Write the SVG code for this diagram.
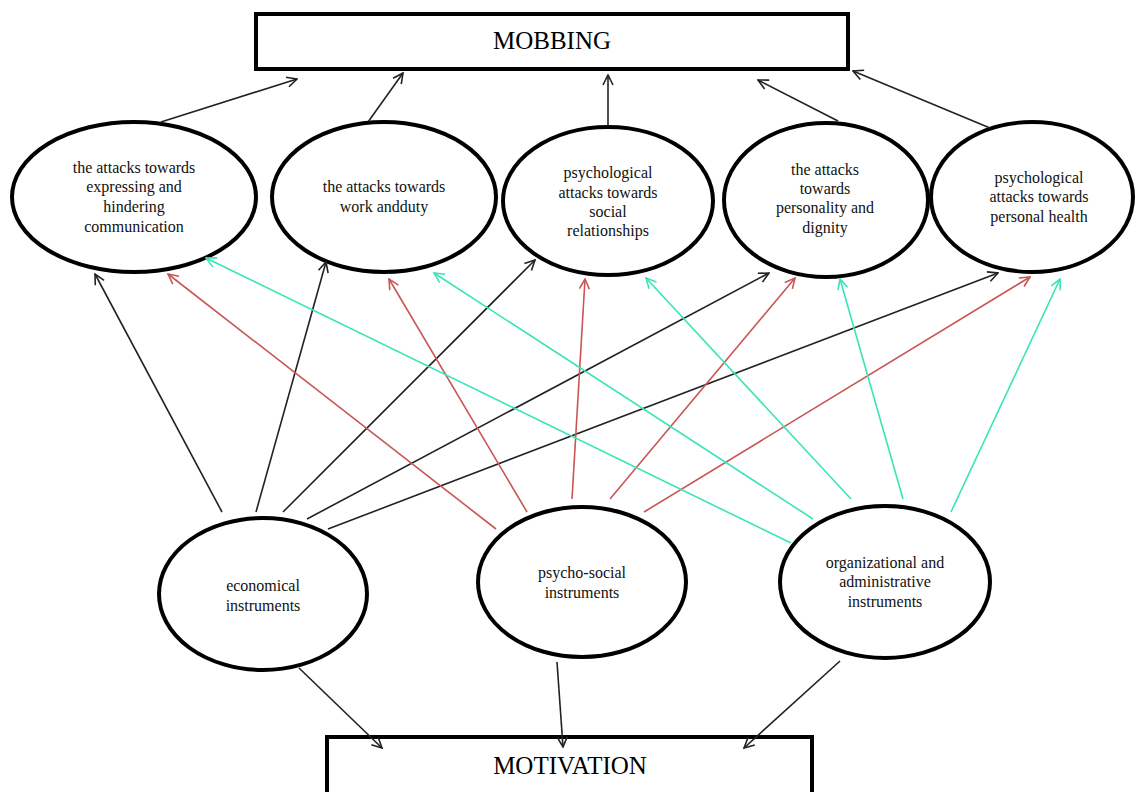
<svg xmlns="http://www.w3.org/2000/svg" width="1136" height="792" viewBox="0 0 1136 792">
<style>
.box{fill:#fff;stroke:#000;stroke-width:4}
.node{fill:#fff;stroke:#000;stroke-width:4}
.t{font-family:"Liberation Serif","Times New Roman",serif;font-size:16px;fill:#111;text-anchor:middle}
.big{font-family:"Liberation Serif","Times New Roman",serif;font-size:25px;fill:#000;text-anchor:middle}
.k{stroke:#222;stroke-width:1.6;fill:none;marker-end:url(#ak)}
.r{stroke:#c95656;stroke-width:1.6;fill:none;marker-end:url(#ar)}
.c{stroke:#3ae4b8;stroke-width:1.6;fill:none;marker-end:url(#ac)}
</style>
<defs>
<marker id="ak" viewBox="0 0 12 12" refX="11" refY="6" markerWidth="12" markerHeight="12" markerUnits="userSpaceOnUse" orient="auto"><path d="M1,1 L11,6 L1,11" fill="none" stroke="#222" stroke-width="1.6"/></marker>
<marker id="ar" viewBox="0 0 12 12" refX="11" refY="6" markerWidth="12" markerHeight="12" markerUnits="userSpaceOnUse" orient="auto"><path d="M1,1 L11,6 L1,11" fill="none" stroke="#c95656" stroke-width="1.6"/></marker>
<marker id="ac" viewBox="0 0 12 12" refX="11" refY="6" markerWidth="12" markerHeight="12" markerUnits="userSpaceOnUse" orient="auto"><path d="M1,1 L11,6 L1,11" fill="none" stroke="#3ae4b8" stroke-width="1.6"/></marker>
</defs>
<rect width="1136" height="792" fill="#fff"/>

<g id="mobbing">
<rect class="box" x="256" y="14" width="592" height="55"/>
<text class="big" x="552" y="49">MOBBING</text>
</g>
<g id="motivation">
<rect class="box" x="327" y="737" width="485" height="70"/>
<text class="big" x="570" y="774">MOTIVATION</text>
</g>

<g id="n1">
<ellipse class="node" cx="134" cy="197" rx="122" ry="75"/>
<text class="t" x="134" y="173">the attacks towards</text>
<text class="t" x="134" y="192">expressing and</text>
<text class="t" x="134" y="212">hindering</text>
<text class="t" x="134" y="232">communication</text>
</g>
<g id="n2">
<ellipse class="node" cx="384" cy="197" rx="112" ry="75"/>
<text class="t" x="384" y="192">the attacks towards</text>
<text class="t" x="384" y="212">work andduty</text>
</g>
<g id="n3">
<ellipse class="node" cx="608" cy="201" rx="105" ry="74"/>
<text class="t" x="608" y="178">psychological</text>
<text class="t" x="608" y="198">attacks towards</text>
<text class="t" x="608" y="217">social</text>
<text class="t" x="608" y="236">relationships</text>
</g>
<g id="n4">
<ellipse class="node" cx="826" cy="200" rx="102" ry="77"/>
<text class="t" x="825" y="175">the attacks</text>
<text class="t" x="825" y="194">towards</text>
<text class="t" x="825" y="213">personality and</text>
<text class="t" x="825" y="233">dignity</text>
</g>
<g id="n5">
<ellipse class="node" cx="1032" cy="197" rx="101" ry="75"/>
<text class="t" x="1039" y="183">psychological</text>
<text class="t" x="1039" y="202">attacks towards</text>
<text class="t" x="1039" y="222">personal health</text>
</g>

<g id="b1">
<ellipse class="node" cx="263" cy="594" rx="104" ry="76"/>
<text class="t" x="263" y="591">economical</text>
<text class="t" x="263" y="611">instruments</text>
</g>
<g id="b2">
<ellipse class="node" cx="582" cy="582" rx="104" ry="75"/>
<text class="t" x="582" y="578">psycho-social</text>
<text class="t" x="582" y="598">instruments</text>
</g>
<g id="b3">
<ellipse class="node" cx="885" cy="582" rx="105" ry="76"/>
<text class="t" x="885" y="568">organizational and</text>
<text class="t" x="885" y="587">administrative</text>
<text class="t" x="885" y="607">instruments</text>
</g>

<g id="connectors">
<line class="k" x1="161" y1="122" x2="297" y2="79"/>
<line class="k" x1="368" y1="122" x2="403" y2="73"/>
<line class="k" x1="608" y1="126" x2="608" y2="75"/>
<line class="k" x1="838" y1="121" x2="758" y2="80"/>
<line class="k" x1="990" y1="128" x2="853" y2="71"/>

<line class="k" x1="299" y1="668" x2="382" y2="748"/>
<line class="k" x1="557" y1="662" x2="563" y2="747"/>
<line class="k" x1="840" y1="661" x2="744" y2="748"/>

<line class="k" x1="222" y1="512" x2="95" y2="274"/>
<line class="k" x1="256" y1="512" x2="326" y2="262"/>
<line class="k" x1="283" y1="512" x2="535" y2="260"/>
<line class="k" x1="307" y1="519" x2="769" y2="273"/>
<line class="k" x1="328" y1="529" x2="998" y2="273"/>

<line class="r" x1="496" y1="529" x2="168" y2="274"/>
<line class="r" x1="527" y1="512" x2="389" y2="279"/>
<line class="r" x1="572" y1="499" x2="585" y2="279"/>
<line class="r" x1="610" y1="499" x2="795" y2="278"/>
<line class="r" x1="644" y1="512" x2="1030" y2="277"/>

<line class="c" x1="791" y1="543" x2="206" y2="258"/>
<line class="c" x1="813" y1="519" x2="434" y2="273"/>
<line class="c" x1="851" y1="499" x2="646" y2="278"/>
<line class="c" x1="903" y1="499" x2="840" y2="279"/>
<line class="c" x1="951" y1="512" x2="1060" y2="279"/>
</g>
</svg>
